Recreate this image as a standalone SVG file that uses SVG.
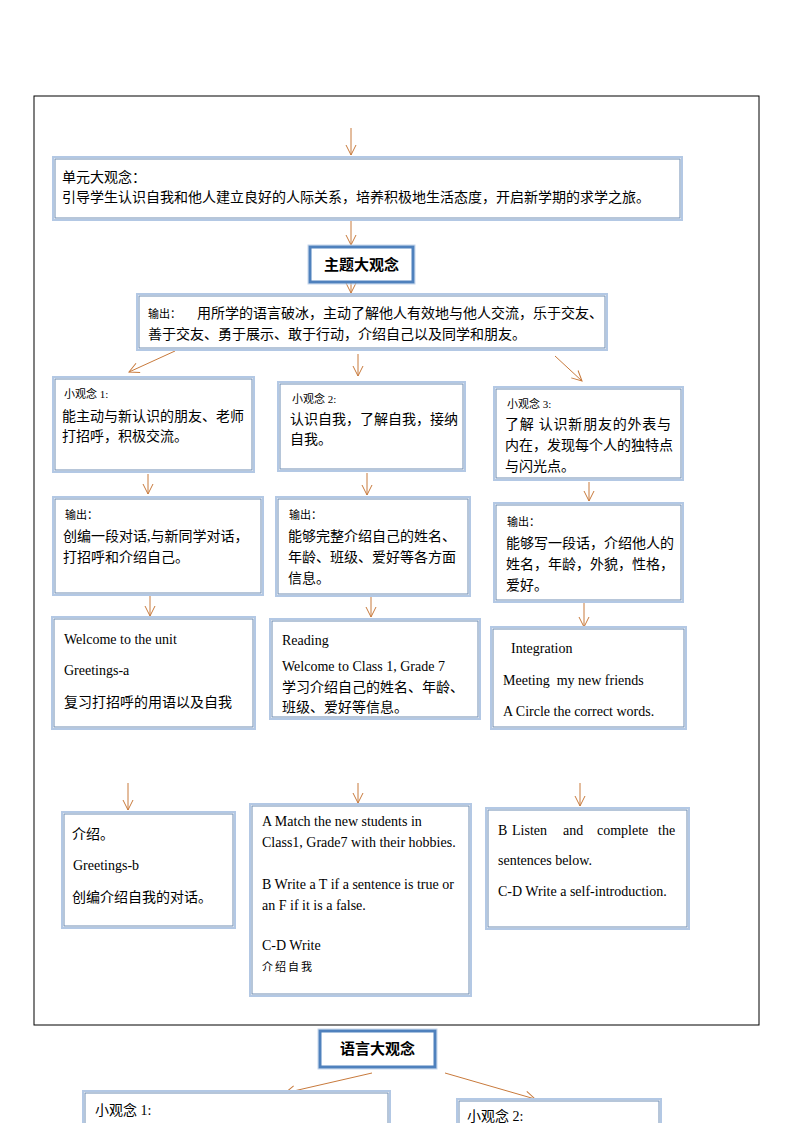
<svg xmlns="http://www.w3.org/2000/svg" width="794" height="1123" viewBox="0 0 794 1123">
<style>
.bo{fill:#fff;stroke:#b3c8e4;stroke-width:2}
.bi{fill:none;stroke:#6f8db3;stroke-width:1}
.tk{fill:#fff;stroke:#4f81bd;stroke-width:3}
.tko{fill:none;stroke:#c5d6ec;stroke-width:1}
.cn{font-family:"Liberation Serif","Noto Sans CJK SC",serif;font-size:14px;fill:#000}
.en{font-family:"Liberation Serif","Noto Sans CJK SC",serif;font-size:14px;fill:#000}
.sm{font-family:"Liberation Serif","Noto Sans CJK SC",serif;font-size:11px;fill:#000}
.hd{font-family:"Liberation Serif","Noto Sans CJK SC",serif;font-size:15px;font-weight:bold;fill:#000}
.ar{stroke:#c87a3c;stroke-width:1;fill:none}
</style>
<defs>
<marker id="ah" markerUnits="userSpaceOnUse" markerWidth="12" markerHeight="12" viewBox="0 0 12 12" refX="11" refY="6" orient="auto">
<path d="M1,1 L11,6 L1,11" fill="none" stroke="#c87a3c" stroke-width="1"/>
</marker>
</defs>
<rect x="34" y="96" width="725" height="929" fill="none" stroke="#000" stroke-width="1"/>

<g id="connectors">
<line class="ar" x1="351" y1="128" x2="351" y2="155" marker-end="url(#ah)"/>
<line class="ar" x1="351" y1="221" x2="351" y2="245" marker-end="url(#ah)"/>
<line class="ar" x1="351" y1="283" x2="351" y2="293" marker-end="url(#ah)"/>
<line class="ar" x1="175" y1="351" x2="129" y2="372" marker-end="url(#ah)"/>
<line class="ar" x1="358" y1="354" x2="358" y2="376" marker-end="url(#ah)"/>
<line class="ar" x1="555" y1="356" x2="582" y2="381" marker-end="url(#ah)"/>
<line class="ar" x1="148" y1="474" x2="148" y2="494" marker-end="url(#ah)"/>
<line class="ar" x1="367" y1="473" x2="367" y2="495" marker-end="url(#ah)"/>
<line class="ar" x1="589" y1="482" x2="589" y2="501" marker-end="url(#ah)"/>
<line class="ar" x1="150" y1="595" x2="150" y2="616" marker-end="url(#ah)"/>
<line class="ar" x1="371" y1="597" x2="371" y2="617" marker-end="url(#ah)"/>
<line class="ar" x1="584" y1="603" x2="584" y2="627" marker-end="url(#ah)"/>
<line class="ar" x1="128" y1="783" x2="128" y2="810" marker-end="url(#ah)"/>
<line class="ar" x1="358" y1="783" x2="358" y2="803" marker-end="url(#ah)"/>
<line class="ar" x1="580" y1="783" x2="580" y2="806" marker-end="url(#ah)"/>
<line class="ar" x1="372" y1="1073" x2="285" y2="1093" marker-end="url(#ah)"/>
<line class="ar" x1="445" y1="1073" x2="535" y2="1099" marker-end="url(#ah)"/>
</g>

<g id="unit">
<rect class="bo" x="53" y="157" width="629" height="63"/><rect class="bi" x="55" y="159" width="625" height="59"/>
<text class="cn" x="62" y="182">单元大观念：</text>
<text class="cn" x="62" y="202">引导学生认识自我和他人建立良好的人际关系，培养积极地生活态度，开启新学期的求学之旅。</text>
</g>

<g id="theme">
<rect class="tko" x="308" y="245" width="107" height="39"/>
<rect class="tk" x="310" y="247" width="103" height="35"/>
<text class="hd" x="361.5" y="270" text-anchor="middle">主题大观念</text>
</g>

<g id="output-main">
<rect class="bo" x="137" y="294" width="470" height="56"/><rect class="bi" x="139" y="296" width="466" height="52"/>
<text class="cn" x="148" y="318"><tspan class="sm" font-size="10px">输出：</tspan><tspan x="197">用所学的语言破冰，主动了解他人有效地与他人交流，乐于交友、</tspan></text>
<text class="cn" x="148" y="339">善于交友、勇于展示、敢于行动，介绍自己以及同学和朋友。</text>
</g>

<g id="idea1">
<rect class="bo" x="53" y="377" width="201" height="95"/><rect class="bi" x="55" y="379" width="197" height="91"/>
<text class="sm" x="64" y="398">小观念 1:</text>
<text class="cn" x="62" y="421">能主动与新认识的朋友、老师</text>
<text class="cn" x="62" y="441">打招呼，积极交流。</text>
</g>
<g id="idea2">
<rect class="bo" x="278" y="382" width="187" height="89"/><rect class="bi" x="280" y="384" width="183" height="85"/>
<text class="sm" x="292" y="403">小观念 2:</text>
<text class="cn" x="290" y="424">认识自我，了解自我，接纳</text>
<text class="cn" x="290" y="444">自我。</text>
</g>
<g id="idea3">
<rect class="bo" x="494" y="387" width="189" height="93"/><rect class="bi" x="496" y="389" width="185" height="89"/>
<text class="sm" x="507" y="408">小观念 3:</text>
<text class="cn" x="505" y="429" textLength="166">了解 认识新朋友的外表与</text>
<text class="cn" x="505" y="450">内在，发现每个人的独特点</text>
<text class="cn" x="505" y="471">与闪光点。</text>
</g>

<g id="out1">
<rect class="bo" x="53" y="497" width="210" height="98"/><rect class="bi" x="55" y="499" width="206" height="94"/>
<text class="sm" x="65" y="519">输出：</text>
<text class="cn" x="63" y="541">创编一段对话,与新同学对话，</text>
<text class="cn" x="63" y="562">打招呼和介绍自己。</text>
</g>
<g id="out2">
<rect class="bo" x="276" y="497" width="194" height="99"/><rect class="bi" x="278" y="499" width="190" height="95"/>
<text class="sm" x="289" y="519">输出：</text>
<text class="cn" x="288" y="541">能够完整介绍自己的姓名、</text>
<text class="cn" x="288" y="562">年龄、班级、爱好等各方面</text>
<text class="cn" x="288" y="583">信息。</text>
</g>
<g id="out3">
<rect class="bo" x="494" y="503" width="189" height="99"/><rect class="bi" x="496" y="505" width="185" height="95"/>
<text class="sm" x="507" y="526">输出：</text>
<text class="cn" x="506" y="548">能够写一段话，介绍他人的</text>
<text class="cn" x="506" y="569">姓名，年龄，外貌，性格，</text>
<text class="cn" x="506" y="590">爱好。</text>
</g>

<g id="lesson1a">
<rect class="bo" x="52" y="617" width="203" height="112"/><rect class="bi" x="54" y="619" width="199" height="108"/>
<text class="en" x="64" y="644">Welcome to the unit</text>
<text class="en" x="64" y="675">Greetings-a</text>
<text class="cn" x="64" y="707">复习打招呼的用语以及自我</text>
</g>
<g id="lesson2a">
<rect class="bo" x="270" y="619" width="210" height="100"/><rect class="bi" x="272" y="621" width="206" height="96"/>
<text class="en" x="282" y="645">Reading</text>
<text class="en" x="282" y="671">Welcome to Class 1, Grade 7</text>
<text class="cn" x="282" y="692">学习介绍自己的姓名、年龄、</text>
<text class="cn" x="282" y="712">班级、爱好等信息。</text>
</g>
<g id="lesson3a">
<rect class="bo" x="491" y="627" width="195" height="102"/><rect class="bi" x="493" y="629" width="191" height="98"/>
<text class="en" x="511" y="653">Integration</text>
<text class="en" x="503" y="685" xml:space="preserve">Meeting  my new friends</text>
<text class="en" x="503" y="716">A Circle the correct words.</text>
</g>

<g id="lesson1b">
<rect class="bo" x="62" y="812" width="173" height="116"/><rect class="bi" x="64" y="814" width="169" height="112"/>
<text class="cn" x="72" y="839">介绍。</text>
<text class="en" x="73" y="870">Greetings-b</text>
<text class="cn" x="72" y="902">创编介绍自我的对话。</text>
</g>
<g id="lesson2b">
<rect class="bo" x="250" y="804" width="221" height="192"/><rect class="bi" x="252" y="806" width="217" height="188"/>
<text class="en" x="262" y="826">A Match the new students in</text>
<text class="en" x="262" y="847">Class1, Grade7 with their hobbies.</text>
<text class="en" x="262" y="889">B Write a T if a sentence is true or</text>
<text class="en" x="262" y="910">an F if it is a false.</text>
<text class="en" x="262" y="950">C-D Write</text>
<text class="sm" x="262" y="971" letter-spacing="2">介绍自我</text>
</g>
<g id="lesson3b">
<rect class="bo" x="486" y="808" width="203" height="121"/><rect class="bi" x="488" y="810" width="199" height="117"/>
<text class="en" y="835"><tspan x="498">B</tspan><tspan x="512">Listen</tspan><tspan x="563">and</tspan><tspan x="597">complete</tspan><tspan x="658">the</tspan></text>
<text class="en" x="498" y="865">sentences below.</text>
<text class="en" x="498" y="896">C-D Write a self-introduction.</text>
</g>

<g id="language">
<rect class="tko" x="318" y="1029" width="119" height="40"/>
<rect class="tk" x="320" y="1031" width="115" height="36"/>
<text class="hd" x="377.5" y="1054" text-anchor="middle">语言大观念</text>
</g>
<g id="lang-idea1">
<rect class="bo" x="83" y="1091" width="307" height="50"/><rect class="bi" x="85" y="1093" width="303" height="46"/>
<text class="cn" x="95" y="1115">小观念 1:</text>
</g>
<g id="lang-idea2">
<rect class="bo" x="457" y="1099" width="204" height="50"/><rect class="bi" x="459" y="1101" width="200" height="46"/>
<text class="cn" x="467" y="1121">小观念 2:</text>
</g>
</svg>
